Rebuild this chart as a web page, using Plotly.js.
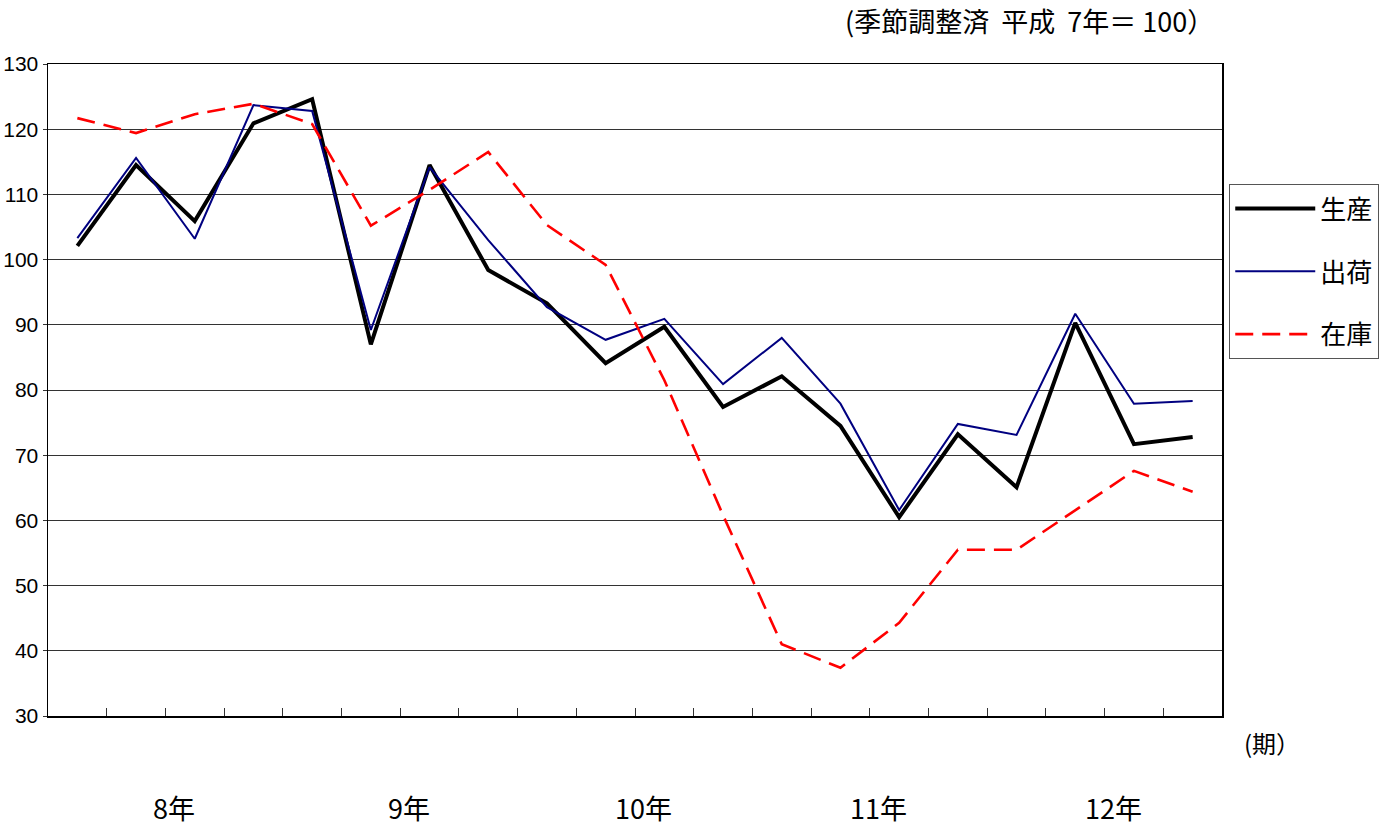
<!DOCTYPE html>
<html>
<head>
<meta charset="utf-8">
<script src="https://cdn.plot.ly/plotly-3.0.1.min.js"></script>
<style>html,body{margin:0;padding:0;background:#fff;}#chart{width:1396px;height:828px;}</style>
</head>
<body>
<div id="chart"></div>
<script>
// Quarterly periods, 平成8年 I期 .. 平成12年 IV期
const years = ["8年", "9年", "10年", "11年", "12年"];
const quartersPerYear = 4;
const production = [102.1, 114.5, 105.9, 120.9, 124.6, 87.0, 114.5, 98.4, 93.3, 84.1, 89.7, 77.4, 82.1, 74.5, 60.5, 73.2, 65.1, 90.3, 71.7, 72.8];
const shipments = [103.3, 115.6, 103.2, 123.7, 122.8, 89.2, 114.2, 103.0, 92.7, 87.7, 90.9, 80.9, 88.0, 77.9, 61.6, 74.8, 73.1, 91.7, 77.9, 78.3];
const inventory = [121.7, 119.4, 122.3, 123.9, 120.8, 105.2, 110.7, 116.5, 105.3, 99.2, 81.5, 60.8, 41.0, 37.4, 44.3, 55.5, 55.5, 61.6, 67.6, 64.4];
const seriesNames = ["生産", "出荷", "在庫"];

const n = production.length;
const xs = production.map((_, i) => i + 1);
const tickPos = Array.from({length: n + 1}, (_, i) => i + 0.5);

const font = "Liberation Sans, Arial, sans-serif";
const cjk = "Noto Sans CJK JP, Liberation Sans, sans-serif";

const traces = [
  {x: xs, y: production, name: seriesNames[0], mode: "lines", line: {color: "#000000", width: 4}, legendgroup: "a"},
  {x: xs, y: shipments, name: seriesNames[1], mode: "lines", line: {color: "#000080", width: 2}, legendgroup: "b"},
  {x: xs, y: inventory, name: seriesNames[2], mode: "lines", line: {color: "#ff0000", width: 2.6, dash: "18px,9px"}, legendgroup: "c"}
];

const annotations = years.map((yr, k) => ({
  x: k * quartersPerYear + 2.5 + 0.15, y: -0.145, yshift: -18, xref: "x", yref: "paper",
  text: yr, showarrow: false, font: {family: cjk, size: 27, color: "#000"}
}));
annotations.push({
  x: 1.0, y: 1.0, xref: "paper", yref: "paper", xanchor: "right", yanchor: "bottom",
  xshift: -6, yshift: 22,
  text: "(季節調整済  平成  7年＝ 100）", showarrow: false,
  font: {family: cjk, size: 27, color: "#000"}
});
annotations.push({
  x: 1.0, y: -0.04, xref: "paper", yref: "paper", xanchor: "left", yanchor: "middle",
  xshift: 20, text: "(期）", showarrow: false,
  font: {family: cjk, size: 24, color: "#000"}
});

const layout = {
  width: 1396, height: 828,
  margin: {l: 48, r: 174, t: 64, b: 112},
  paper_bgcolor: "#fff", plot_bgcolor: "#fff",
  showlegend: true,
  legend: {
    x: 1.006, xanchor: "left", y: 0.816, yanchor: "top",
    bgcolor: "#fff", bordercolor: "#555", borderwidth: 1.2,
    font: {family: cjk, size: 26, color: "#000"},
    traceorder: "grouped", tracegroupgap: 26,
    itemwidth: 80
  },
  xaxis: {
    range: [0.5, n + 0.5], tickmode: "array", tickvals: tickPos, ticktext: tickPos.map(() => ""),
    ticks: "inside", ticklen: 8, tickcolor: "#333", tickwidth: 1,
    showgrid: false, zeroline: false,
    showline: true, linecolor: "#000", linewidth: 1.5, mirror: true
  },
  yaxis: {
    range: [30, 130], tickmode: "linear", tick0: 30, dtick: 10,
    ticks: "outside", ticklen: 4, tickcolor: "#333",
    showgrid: true, gridcolor: "#333", gridwidth: 1,
    zeroline: false, showline: true, linecolor: "#000", linewidth: 1.5, mirror: true,
    tickfont: {family: font, size: 21, color: "#000"}
  },
  annotations: annotations
};

Plotly.newPlot("chart", traces, layout, {displayModeBar: false, staticPlot: true});
</script>
</body>
</html>
